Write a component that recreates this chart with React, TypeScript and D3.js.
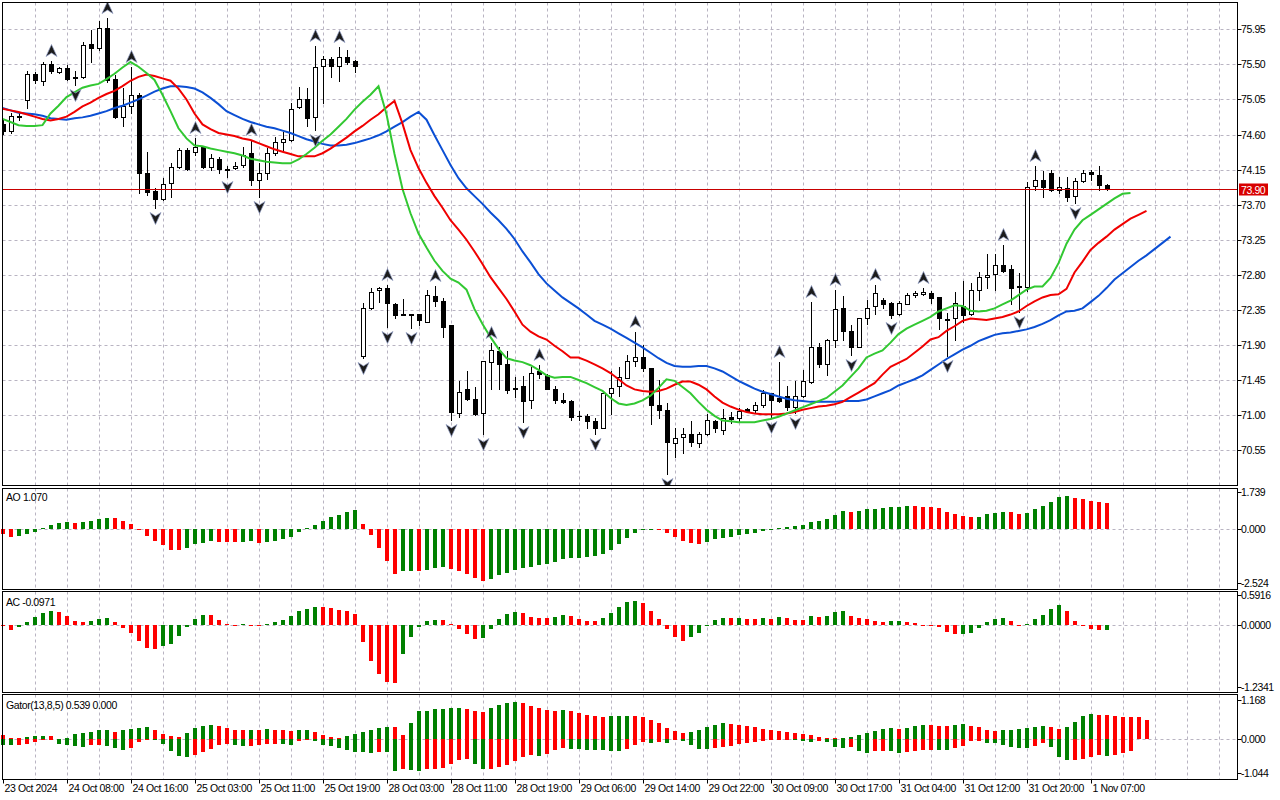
import { line, scaleLinear } from 'd3'

// H1 candles (bar 0 = leftmost visible bar)
const open = [
  74.73, 74.64, 74.84, 75.04, 75.38, 75.29, 75.5, 75.4, 75.45, 75.34,
  75.34, 75.76, 75.71, 75.97, 75.31, 74.82, 74.97, 75.11, 74.11, 73.87,
  73.77, 73.98, 74.18, 74.4, 74.38, 74.44, 74.18, 74.29, 74.16, 74.17,
  74.21, 74.36, 74.02, 74.11, 74.36, 74.5, 74.53, 74.95, 75.06, 74.82,
  75.48, 75.57, 75.48, 75.59, 75.54, 71.76, 72.38, 72.6, 72.63, 72.42,
  72.3, 72.3, 72.3, 72.2, 72.53, 72.47, 72.15, 71.03, 71.33, 71.21,
  71.03, 71.68, 71.82, 71.66, 71.33, 71.37, 71.2, 71.56, 71.51, 71.34,
  71.2, 71.18, 70.99, 70.99, 70.93, 70.84, 71.29, 71.37, 71.48, 71.69,
  71.75, 71.6, 71.13, 71.07, 70.64, 70.72, 70.76, 70.64, 70.76, 70.93,
  70.81, 70.97, 70.96, 71.08, 71.06, 71.13, 71.28, 71.22, 71.24, 71.11,
  71.25, 71.43, 71.88, 71.66, 71.96, 72.37, 72.08, 71.88, 72.24, 72.4,
  72.48, 72.44, 72.3, 72.43, 72.54, 72.55, 72.57, 72.51, 72.23, 72.24,
  72.4, 72.3, 72.61, 72.77, 72.81, 72.92, 72.87, 72.66, 72.65, 73.94,
  74.02, 74.1, 73.89, 73.92, 73.81, 74.01, 74.12, 74.08, 73.95,
]
const high = [
  74.79, 74.88, 74.89, 75.42, 75.4, 75.53, 75.54, 75.47, 75.49, 75.42,
  75.79, 75.94, 76.06, 76.1, 75.36, 75.2, 75.47, 75.13, 74.38, 73.91,
  74.04, 74.23, 74.43, 74.43, 74.56, 74.45, 74.35, 74.31, 74.2, 74.25,
  74.44, 74.53, 74.23, 74.43, 74.57, 74.63, 75.0, 75.21, 75.2, 75.74,
  75.61, 75.59, 75.72, 75.68, 75.56, 72.44, 72.63, 72.65, 72.67, 72.44,
  72.49, 72.3, 72.3, 72.6, 72.66, 72.5, 72.16, 71.44, 71.56, 71.36,
  71.7, 71.93, 71.87, 71.82, 71.49, 71.5, 71.62, 71.64, 71.53, 71.38,
  71.28, 71.19, 71.05, 71.02, 70.96, 71.3, 71.56, 71.62, 71.77, 72.07,
  71.9, 71.61, 71.45, 71.16, 70.83, 70.83, 70.93, 70.78, 71.01, 70.94,
  71.08, 71.04, 71.09, 71.09, 71.17, 71.32, 71.28, 71.68, 71.38, 71.44,
  71.58, 72.45, 71.92, 71.98, 72.6, 72.53, 72.15, 72.25, 72.48, 72.67,
  72.5, 72.45, 72.47, 72.57, 72.59, 72.63, 72.59, 72.52, 72.31, 72.58,
  72.72, 72.69, 72.84, 73.07, 73.07, 73.18, 72.92, 72.82, 73.99, 74.19,
  74.13, 74.14, 74.05, 74.05, 74.04, 74.15, 74.15, 74.2, 73.96,
]
const low = [
  74.61, 74.62, 74.79, 74.94, 75.26, 75.24, 75.39, 75.39, 75.3, 75.24,
  75.33, 75.53, 75.68, 75.27, 74.81, 74.71, 74.88, 73.85, 73.82, 73.66,
  73.76, 73.8, 74.17, 74.14, 74.34, 74.17, 74.14, 74.1, 74.05, 74.16,
  74.18, 73.95, 73.8, 74.03, 74.34, 74.38, 74.52, 74.94, 74.71, 74.66,
  75.0, 75.34, 75.29, 75.5, 75.4, 71.73, 72.36, 72.45, 72.13, 72.24,
  72.28, 72.12, 72.15, 72.19, 72.4, 72.0, 70.94, 70.98, 71.19, 71.0,
  70.76, 71.34, 71.33, 71.28, 71.23, 70.91, 71.09, 71.47, 71.33, 71.16,
  71.15, 70.94, 70.94, 70.84, 70.76, 70.83, 71.02, 71.24, 71.47, 71.63,
  71.57, 70.88, 70.96, 70.25, 70.46, 70.52, 70.61, 70.59, 70.74, 70.78,
  70.76, 70.9, 70.93, 71.04, 71.04, 71.11, 70.98, 71.17, 71.07, 71.03,
  71.23, 71.41, 71.62, 71.51, 71.88, 71.97, 71.77, 71.87, 72.17, 72.3,
  72.38, 72.25, 72.28, 72.42, 72.52, 72.54, 72.44, 72.11, 71.76, 71.97,
  72.2, 72.28, 72.48, 72.63, 72.61, 72.84, 72.43, 72.32, 72.59, 73.89,
  73.8, 73.87, 73.85, 73.75, 73.72, 73.99, 74.02, 73.89, 73.89,
]
const close = [
  74.64, 74.84, 74.83, 75.38, 75.3, 75.5, 75.42, 75.45, 75.31, 75.33,
  75.75, 75.71, 75.97, 75.3, 74.82, 74.97, 75.11, 74.11, 73.86, 73.77,
  73.96, 74.18, 74.4, 74.16, 74.44, 74.18, 74.3, 74.16, 74.15, 74.2,
  74.34, 74.02, 74.11, 74.36, 74.5, 74.54, 74.93, 75.06, 74.81, 75.47,
  75.57, 75.48, 75.59, 75.53, 75.48, 72.38, 72.58, 72.63, 72.44, 72.29,
  72.29, 72.28, 72.22, 72.54, 72.47, 72.13, 71.04, 71.3, 71.21, 71.01,
  71.69, 71.84, 71.66, 71.32, 71.35, 71.18, 71.54, 71.53, 71.34, 71.19,
  71.17, 70.98, 70.99, 70.93, 70.84, 71.29, 71.35, 71.49, 71.69, 71.75,
  71.6, 71.13, 71.07, 70.66, 70.71, 70.76, 70.66, 70.76, 70.94, 70.83,
  70.96, 70.95, 71.05, 71.05, 71.13, 71.29, 71.19, 71.18, 71.11, 71.25,
  71.44, 71.87, 71.66, 71.97, 72.36, 72.08, 71.88, 72.24, 72.38, 72.57,
  72.43, 72.28, 72.44, 72.54, 72.57, 72.58, 72.5, 72.24, 72.22, 72.44,
  72.28, 72.61, 72.77, 72.8, 72.92, 72.85, 72.63, 72.64, 73.93, 74.02,
  73.93, 73.89, 73.93, 73.8, 74.01, 74.11, 74.09, 73.95, 73.9,
]

// Alligator, already shifted forward (jaw +8, teeth +5, lips +3 bars)
const jaw = [
  74.94, 74.91, 74.88, 74.87, 74.86, 74.84, 74.81, 74.8, 74.79, 74.81,
  74.82, 74.84, 74.87, 74.9, 74.94, 74.97, 75.01, 75.05, 75.1, 75.15,
  75.19, 75.22, 75.22, 75.21, 75.19, 75.14, 75.07, 74.99, 74.9, 74.85,
  74.8, 74.76, 74.73, 74.7, 74.68, 74.65, 74.62, 74.58, 74.54, 74.51,
  74.48, 74.46, 74.46, 74.47, 74.49, 74.52, 74.55, 74.59, 74.64, 74.7,
  74.76, 74.83, 74.89, 74.79, 74.59, 74.4, 74.21, 74.04, 73.91, 73.81,
  73.71, 73.6, 73.5, 73.39, 73.26, 73.1, 72.96, 72.81, 72.69, 72.6,
  72.51, 72.44, 72.37, 72.29, 72.21, 72.16, 72.11, 72.05, 71.99, 71.93,
  71.87, 71.8, 71.73, 71.67, 71.63, 71.62, 71.62, 71.63, 71.63, 71.6,
  71.56, 71.5, 71.44, 71.39, 71.34, 71.3, 71.27, 71.24, 71.21, 71.19,
  71.18, 71.17, 71.17, 71.17, 71.17, 71.18, 71.18, 71.18, 71.2, 71.24,
  71.28, 71.32, 71.38, 71.42, 71.46, 71.51, 71.58, 71.65, 71.72, 71.78,
  71.84, 71.89, 71.95, 71.99, 72.03, 72.05, 72.06, 72.08, 72.1, 72.13,
  72.17, 72.22, 72.28, 72.33, 72.34, 72.37, 72.45, 72.53, 72.63, 72.74,
  72.82, 72.9, 72.98, 73.05, 73.13, 73.21, 73.29,
]
const teeth = [
  74.93, 74.91, 74.89, 74.86, 74.83, 74.8, 74.78, 74.8, 74.83, 74.89,
  74.96, 75.01, 75.07, 75.12, 75.16, 75.22, 75.29, 75.34, 75.37, 75.35,
  75.32, 75.29, 75.19, 75.05, 74.87, 74.73, 74.67, 74.62, 74.6, 74.58,
  74.55, 74.53, 74.49, 74.45, 74.41, 74.38, 74.35, 74.32, 74.32, 74.32,
  74.36, 74.42, 74.49, 74.56, 74.64, 74.71, 74.79, 74.86, 74.95, 75.03,
  74.74, 74.4, 74.17, 73.98, 73.81, 73.66, 73.5, 73.38, 73.25, 73.1,
  72.94, 72.77, 72.63, 72.49, 72.33, 72.16, 72.07, 72.01, 71.97, 71.89,
  71.82, 71.74, 71.74, 71.7, 71.65, 71.6, 71.54, 71.46, 71.38, 71.33,
  71.31, 71.3, 71.31, 71.34, 71.39, 71.43, 71.43, 71.39, 71.33, 71.24,
  71.16, 71.11, 71.07, 71.04, 71.02, 71.01, 71.01, 71.01, 71.02, 71.04,
  71.07, 71.09, 71.11, 71.12, 71.14, 71.17, 71.23, 71.29, 71.35, 71.41,
  71.52, 71.62, 71.67, 71.72, 71.8, 71.88, 71.97, 72.0, 72.08, 72.14,
  72.21, 72.24, 72.23, 72.22, 72.24, 72.26, 72.29, 72.33, 72.4, 72.46,
  72.51, 72.54, 72.55, 72.62, 72.83, 72.97, 73.12, 73.21, 73.29, 73.38,
  73.45, 73.52, 73.57, 73.62,
]
const lips = [
  74.8, 74.76, 74.72, 74.71, 74.71, 74.72, 74.87, 74.97, 75.08, 75.14,
  75.2, 75.23, 75.25, 75.31, 75.38, 75.46, 75.53, 75.47, 75.39, 75.3,
  75.11, 74.9, 74.68, 74.55, 74.46, 74.45, 74.42, 74.4, 74.38, 74.36,
  74.33, 74.29, 74.27, 74.25, 74.24, 74.23, 74.23, 74.28, 74.35, 74.43,
  74.52, 74.6, 74.7, 74.8, 74.92, 75.02, 75.11, 75.22, 74.86, 74.35,
  73.9, 73.59, 73.33, 73.15, 72.98, 72.85, 72.75, 72.7, 72.61, 72.36,
  72.17, 72.0, 71.85, 71.73, 71.7, 71.68, 71.64, 71.58, 71.51, 71.48,
  71.49, 71.49, 71.45, 71.41, 71.36, 71.31, 71.22, 71.15, 71.13, 71.15,
  71.19, 71.25, 71.35, 71.46, 71.44, 71.36, 71.28, 71.17, 71.07, 70.99,
  70.93, 70.92, 70.91, 70.91, 70.91, 70.93, 70.95, 70.98, 71.02, 71.06,
  71.1, 71.14, 71.18, 71.22, 71.3, 71.38, 71.49, 71.6, 71.74, 71.79,
  71.83, 71.93, 72.04, 72.11, 72.16, 72.21, 72.26, 72.33, 72.37, 72.41,
  72.4, 72.34, 72.33, 72.34, 72.37, 72.42, 72.47, 72.54, 72.61, 72.65,
  72.65, 72.76, 72.95, 73.2, 73.38, 73.5, 73.57, 73.64, 73.71, 73.78,
  73.84, 73.85,
]

// Bill Williams fractals (bar indexes)
const fractalUp = [6, 13, 16, 24, 31, 39, 42, 48, 54, 61, 67, 79, 97, 101, 104, 109, 115, 125, 129]
const fractalDown = [9, 19, 28, 32, 39, 45, 48, 51, 56, 60, 65, 74, 83, 96, 99, 106, 111, 118, 127, 134]

const ao = [
  -0.23, -0.34, -0.335, -0.2, -0.11, 0.05, 0.19, 0.31, 0.34, 0.3,
  0.34, 0.4, 0.5, 0.53, 0.52, 0.4, 0.25, -0.01, -0.31, -0.54,
  -0.73, -0.95, -0.96, -0.85, -0.7, -0.62, -0.54, -0.58, -0.59, -0.6,
  -0.57, -0.56, -0.62, -0.58, -0.54, -0.47, -0.34, -0.11, 0.05, 0.2,
  0.39, 0.57, 0.67, 0.81, 0.9, 0.25, -0.26, -0.85, -1.48, -2.07,
  -1.94, -1.93, -1.95, -1.88, -1.79, -1.74, -1.85, -1.95, -2.08, -2.27,
  -2.41, -2.3, -2.13, -2.04, -1.88, -1.8, -1.76, -1.66, -1.6, -1.51,
  -1.38, -1.34, -1.32, -1.27, -1.23, -1.13, -0.95, -0.67, -0.39, -0.16,
  -0.02, -0.01, -0.015, -0.16, -0.34, -0.53, -0.62, -0.67, -0.58, -0.44,
  -0.39, -0.34, -0.25, -0.2, -0.16, -0.06, -0.02, 0.05, 0.11, 0.16,
  0.2, 0.34, 0.39, 0.48, 0.67, 0.85, 0.81, 0.86, 0.95, 0.96,
  0.97, 1.04, 1.05, 1.09, 1.08, 1.04, 1.03, 0.98, 0.81, 0.71,
  0.62, 0.57, 0.58, 0.72, 0.76, 0.81, 0.8, 0.71, 0.76, 0.95,
  1.09, 1.29, 1.51, 1.55, 1.46, 1.41, 1.32, 1.27, 1.23,
]
const ac = [
  -0.02, -0.1, -0.05, 0.05, 0.16, 0.24, 0.27, 0.26, 0.18, 0.08,
  0.06, 0.08, 0.12, 0.14, 0.06, -0.07, -0.17, -0.33, -0.47, -0.48,
  -0.43, -0.39, -0.23, -0.05, 0.12, 0.2, 0.19, 0.1, 0.02, 0.005,
  0.01, 0.005, 0.003, 0.02, 0.06, 0.1, 0.18, 0.28, 0.32, 0.36,
  0.355, 0.34, 0.3, 0.28, 0.22, -0.35, -0.73, -0.99, -1.15, -1.17,
  -0.59, -0.25, -0.05, 0.08, 0.1, 0.098, 0.02, -0.09, -0.19, -0.29,
  -0.27, -0.09, 0.12, 0.22, 0.26, 0.24, 0.16, 0.14, 0.138, 0.16,
  0.2, 0.18, 0.12, 0.08, 0.078, 0.14, 0.24, 0.36, 0.46, 0.48,
  0.44, 0.28, 0.12, -0.08, -0.25, -0.33, -0.25, -0.17, 0.005, 0.1,
  0.14, 0.138, 0.14, 0.12, 0.118, 0.14, 0.12, 0.16, 0.14, 0.1,
  0.098, 0.18, 0.16, 0.18, 0.26, 0.28, 0.18, 0.14, 0.12, 0.08,
  0.06, 0.08, 0.082, 0.06, 0.04, 0.003, -0.005, -0.05, -0.15, -0.19,
  -0.185, -0.17, -0.07, 0.06, 0.12, 0.14, 0.08, 0.005, 0.01, 0.12,
  0.2, 0.32, 0.4, 0.28, 0.08, -0.03, -0.09, -0.11, -0.097,
]
const gatorUp = [
  0.12, 0.03, 0.02, 0.05, 0.08, 0.085, 0.08, 0.01, 0.04, 0.14,
  0.19, 0.22, 0.26, 0.265, 0.22, 0.26, 0.29, 0.34, 0.345, 0.26,
  0.14, 0.08, 0.06, 0.19, 0.34, 0.4, 0.43, 0.38, 0.34, 0.28,
  0.275, 0.28, 0.275, 0.31, 0.28, 0.275, 0.25, 0.255, 0.26, 0.22,
  0.13, 0.07, 0.04, 0.1, 0.16, 0.22, 0.28, 0.34, 0.37, 0.36,
  0.13, 0.49, 0.83, 0.835, 0.89, 0.895, 0.92, 0.925, 0.89, 0.83,
  0.825, 0.92, 1.04, 1.1, 1.13, 1.1, 1.01, 0.92, 0.86, 0.855,
  0.86, 0.83, 0.77, 0.71, 0.68, 0.675, 0.68, 0.685, 0.69, 0.68,
  0.65, 0.56, 0.47, 0.34, 0.25, 0.19, 0.22, 0.28, 0.37, 0.43,
  0.49, 0.46, 0.43, 0.4, 0.37, 0.31, 0.28, 0.25, 0.22, 0.19,
  0.16, 0.13, 0.07, 0.04, 0.02, 0.03, 0.07, 0.13, 0.19, 0.25,
  0.31, 0.34, 0.31, 0.34, 0.4, 0.43, 0.425, 0.4, 0.395, 0.43,
  0.435, 0.4, 0.37, 0.28, 0.25, 0.255, 0.28, 0.31, 0.34, 0.37,
  0.4, 0.37, 0.31, 0.37, 0.52, 0.68, 0.74, 0.735, 0.71, 0.68,
  0.675, 0.67, 0.665, 0.57,
]
const gatorDown = [
  0.18, 0.185, 0.18, 0.15, 0.1, 0.04, 0.02, 0.16, 0.18, 0.22,
  0.24, 0.2, 0.2, 0.22, 0.28, 0.34, 0.28, 0.1, 0.04, 0.045,
  0.16, 0.37, 0.53, 0.56, 0.48, 0.4, 0.3, 0.18, 0.16, 0.18,
  0.22, 0.215, 0.2, 0.16, 0.158, 0.162, 0.18, 0.07, 0.02, 0.06,
  0.19, 0.22, 0.28, 0.34, 0.4, 0.405, 0.43, 0.4, 0.405, 0.98,
  0.92, 0.95, 0.98, 0.92, 0.915, 0.89, 0.77, 0.65, 0.62, 0.77,
  0.92, 0.915, 0.86, 0.8, 0.68, 0.56, 0.49, 0.53, 0.46, 0.34,
  0.28, 0.31, 0.315, 0.34, 0.345, 0.35, 0.355, 0.37, 0.31, 0.19,
  0.1, 0.12, 0.1, 0.13, 0.03, 0.07, 0.19, 0.31, 0.315, 0.28,
  0.25, 0.22, 0.16, 0.13, 0.1, 0.07, 0.04, 0.02, 0.01, 0.04,
  0.07, 0.1, 0.07, 0.1, 0.25, 0.28, 0.25, 0.37, 0.43, 0.37,
  0.365, 0.37, 0.43, 0.4, 0.37, 0.34, 0.335, 0.34, 0.345, 0.28,
  0.22, 0.07, 0.068, 0.13, 0.135, 0.19, 0.25, 0.28, 0.285, 0.22,
  0.13, 0.25, 0.56, 0.65, 0.645, 0.62, 0.56, 0.5, 0.505, 0.5,
  0.44, 0.375,
]

const priceTicks = [75.95, 75.5, 75.05, 74.6, 74.15, 73.7, 73.25, 72.8, 72.35, 71.9, 71.45, 71.0, 70.55]
const timeLabels = [
  '23 Oct 2024', '24 Oct 08:00', '24 Oct 16:00', '25 Oct 03:00', '25 Oct 11:00', '25 Oct 19:00',
  '28 Oct 03:00', '28 Oct 11:00', '28 Oct 19:00', '29 Oct 06:00', '29 Oct 14:00', '29 Oct 22:00',
  '30 Oct 09:00', '30 Oct 17:00', '31 Oct 04:00', '31 Oct 12:00', '31 Oct 20:00', '1 Nov 07:00',
]
const bidPrice = 73.9

const FONT = '"Liberation Sans", Arial, sans-serif'
const GRID = '#b9b4c2'
const UP = '#008000'
const DOWN = '#ff0000'

const L = 2.5
const R = 1237.5
const MAIN = { top: 2.5, bottom: 485.5 }
const AO_P = { top: 488.5, bottom: 589.5 }
const AC_P = { top: 591.5, bottom: 692.5 }
const GT_P = { top: 694.5, bottom: 779.5 }

const x = scaleLinear().domain([0, 1]).range([2.5, 10.5])
const y = scaleLinear().domain([70.55, 75.95]).range([450.2, 29.3])
const yAO = scaleLinear().domain([-2.524, 1.739]).range([583.4, 492.0])
const yAC = scaleLinear().domain([-1.2341, 0.5916]).range([686.7, 595.4])
const yGT = scaleLinear().domain([-1.044, 1.168]).range([773.3, 700.3])

const px = (v: number) => Math.round(v) + 0.5

// green when the value grows against the previous bar, red when it falls
function barColors(vals: number[], first: string) {
  const out: string[] = []
  vals.forEach((v, i) => {
    if (i === 0) out.push(first)
    else if (v > vals[i - 1]) out.push(UP)
    else if (v < vals[i - 1]) out.push(DOWN)
    else out.push(out[i - 1])
  })
  return out
}

function Histogram({ vals, scale, colors, sign = 1 }: { vals: number[]; scale: any; colors: string[]; sign?: number }) {
  const y0 = Math.round(scale(0))
  return (
    <g>
      {vals.map((v, i) => {
        const yv = Math.round(scale(v * sign))
        const top = Math.min(y0, yv)
        const h = Math.max(1, Math.abs(yv - y0))
        return <rect key={i} x={Math.round(x(i)) - 2} y={top} width={4} height={h} fill={colors[i]} />
      })}
    </g>
  )
}

function Panel({ top, bottom, children }: { top: number; bottom: number; children?: any }) {
  const vLines = []
  for (let k = 4; x(k) < R; k += 4) vLines.push(k)
  return (
    <g>
      {vLines.map((k) => (
        <line key={k} x1={px(x(k))} x2={px(x(k))} y1={top} y2={bottom} stroke={GRID} strokeDasharray="3 3" />
      ))}
      {children}
      <rect x={L} y={top} width={R - L} height={bottom - top} fill="none" stroke="#000" />
    </g>
  )
}

export default function App() {
  const aoColors = barColors(ao, DOWN)
  const acColors = barColors(ac, DOWN)
  const upColors = barColors(gatorUp, DOWN)
  const dnColors = barColors(gatorDown, UP)

  const path = (vals: number[]) =>
    line<number>()
      .x((_, i) => x(i))
      .y((d) => y(d))(vals) ?? ''

  const yBid = px(y(bidPrice))
  const zeroAO = px(yAO(0))
  const zeroAC = px(yAC(0))
  const zeroGT = px(yGT(0))

  const axisText = { fontFamily: FONT, fontSize: 10.5, letterSpacing: -0.4, fill: '#000' }

  return (
    <div>
      <style>{'body{margin:0;background:#fff}'}</style>
      <svg width={1280} height={800} style={{ display: 'block' }}>
        <defs>
          <clipPath id="mainClip">
            <rect x={L} y={MAIN.top} width={R - L} height={MAIN.bottom - MAIN.top} />
          </clipPath>
        </defs>
        <rect width={1280} height={800} fill="#fff" />

        {/* price panel */}
        <Panel top={MAIN.top} bottom={MAIN.bottom}>
          {priceTicks.map((t) => (
            <line key={t} x1={L} x2={R} y1={px(y(t))} y2={px(y(t))} stroke={GRID} strokeDasharray="3 3" />
          ))}
          <g clipPath="url(#mainClip)">
            {open.map((o, i) => {
              const c = close[i]
              const cx = px(x(i))
              const yTop = Math.round(y(Math.max(o, c)))
              const yBot = Math.round(y(Math.min(o, c)))
              return (
                <g key={i}>
                  <line x1={cx} x2={cx} y1={Math.round(y(high[i]))} y2={Math.round(y(low[i])) + 1} stroke="#000" />
                  {c > o ? (
                    <rect x={cx - 2} y={yTop + 0.5} width={4} height={Math.max(1, yBot - yTop)} fill="#fff" stroke="#000" />
                  ) : c < o ? (
                    <rect x={cx - 2.5} y={yTop} width={5} height={Math.max(1, yBot - yTop + 1)} fill="#000" />
                  ) : (
                    <line x1={cx - 2.5} x2={cx + 2.5} y1={yTop + 0.5} y2={yTop + 0.5} stroke="#000" />
                  )}
                </g>
              )
            })}
            <path d={path(jaw)} fill="none" stroke="#0b4fd4" strokeWidth={2} />
            <path d={path(teeth)} fill="none" stroke="#f00000" strokeWidth={2} />
            <path d={path(lips)} fill="none" stroke="#32c832" strokeWidth={2} />
            <line x1={L} x2={R} y1={yBid} y2={yBid} stroke="#c80000" />
            {fractalUp.map((k) => (
              <path
                key={'u' + k}
                transform={`translate(${px(x(k))},${Math.round(y(high[k])) - 10})`}
                d="M0,-6.5 L5.5,5.5 L0,2 L-5.5,5.5 Z"
                fill="#1c1c1c"
                stroke="#8f9cc4"
                strokeWidth={0.7}
              />
            ))}
            {fractalDown.map((k) => (
              <path
                key={'d' + k}
                transform={`translate(${px(x(k))},${Math.round(y(low[k])) + 10})`}
                d="M0,6.5 L5.5,-5.5 L0,-2 L-5.5,-5.5 Z"
                fill="#1c1c1c"
                stroke="#8f9cc4"
                strokeWidth={0.7}
              />
            ))}
          </g>
        </Panel>

        {/* AO */}
        <Panel top={AO_P.top} bottom={AO_P.bottom}>
          <line x1={L} x2={R} y1={zeroAO} y2={zeroAO} stroke={GRID} strokeDasharray="3 3" />
          <Histogram vals={ao} scale={yAO} colors={aoColors} />
          <text x={6} y={501} {...axisText}>AO 1.070</text>
        </Panel>

        {/* AC */}
        <Panel top={AC_P.top} bottom={AC_P.bottom}>
          <line x1={L} x2={R} y1={zeroAC} y2={zeroAC} stroke={GRID} strokeDasharray="3 3" />
          <Histogram vals={ac} scale={yAC} colors={acColors} />
          <text x={6} y={606} {...axisText}>AC -0.0971</text>
        </Panel>

        {/* Gator */}
        <Panel top={GT_P.top} bottom={GT_P.bottom}>
          <line x1={L} x2={R} y1={zeroGT} y2={zeroGT} stroke={GRID} strokeDasharray="3 3" />
          <Histogram vals={gatorUp} scale={yGT} colors={upColors} />
          <Histogram vals={gatorDown} scale={yGT} colors={dnColors} sign={-1} />
          <text x={6} y={709} {...axisText}>Gator(13,8,5) 0.539 0.000</text>
        </Panel>

        {/* right price axis */}
        {priceTicks.map((t) => (
          <g key={t}>
            <line x1={R} x2={R + 4} y1={px(y(t))} y2={px(y(t))} stroke="#000" />
            <text x={1241} y={y(t)} dominantBaseline="central" {...axisText}>
              {t.toFixed(2)}
            </text>
          </g>
        ))}
        <rect x={1239} y={yBid - 6} width={29} height={12} fill="#d80000" />
        <text x={1241} y={yBid} dominantBaseline="central" {...axisText} fill="#fff">
          {bidPrice.toFixed(2)}
        </text>

        {/* indicator axes */}
        {[
          { s: yAO, v: [1.739, 0, -2.524], d: 3 },
          { s: yAC, v: [0.5916, 0, -1.2341], d: 4 },
          { s: yGT, v: [1.168, 0, -1.044], d: 3 },
        ].map(({ s, v, d }, j) =>
          v.map((t) => (
            <g key={j + '_' + t}>
              <line x1={R} x2={R + 4} y1={px(s(t))} y2={px(s(t))} stroke="#000" />
              <text x={1241} y={s(t)} dominantBaseline="central" {...axisText}>
                {t.toFixed(d)}
              </text>
            </g>
          )),
        )}

        {/* time axis */}
        {timeLabels.map((lab, i) => {
          const tx = px(x(i * 8))
          return (
            <g key={lab}>
              <line x1={tx} x2={tx} y1={GT_P.bottom} y2={GT_P.bottom + 4} stroke="#000" />
              <text x={tx + 1} y={792} {...axisText}>
                {lab}
              </text>
            </g>
          )
        })}
      </svg>
    </div>
  )
}
